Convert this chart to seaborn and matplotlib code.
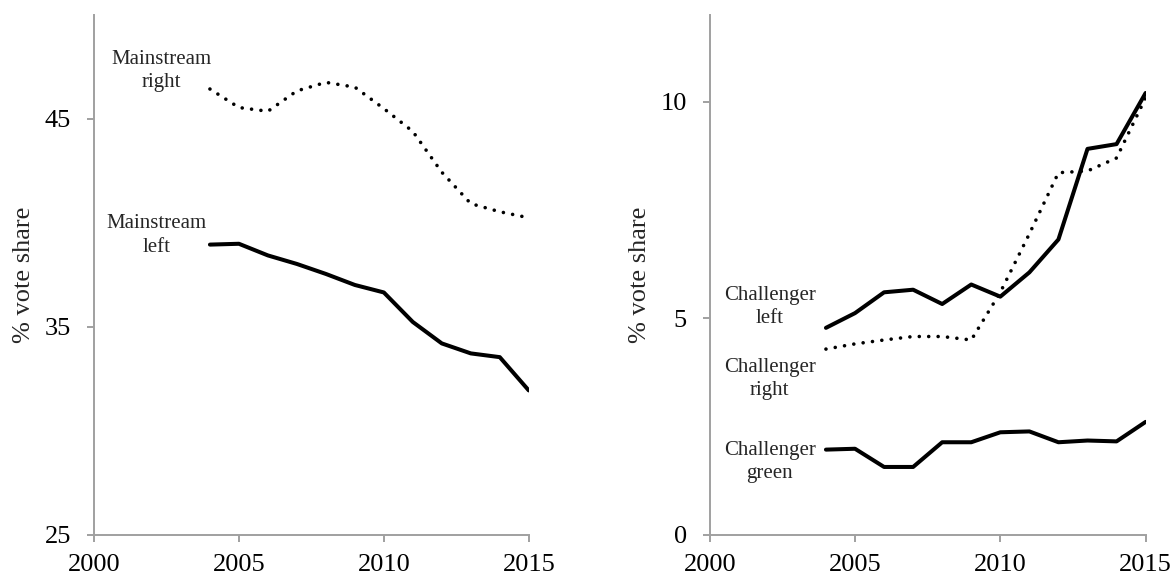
import matplotlib
matplotlib.use("Agg")
import matplotlib.pyplot as plt
import seaborn as sns
import pandas as pd

sns.set_style("ticks")
plt.rcParams['font.family'] = ['Liberation Serif', 'DejaVu Serif']

years = [2004, 2005, 2006, 2007, 2008, 2009, 2010, 2011, 2012, 2013, 2014, 2015]

# mainstream parties
mainstream_left = [38.96, 39.0, 38.44, 38.03, 37.55, 37.02, 36.66, 35.24, 34.21, 33.73, 33.55, 31.95]
mainstream_right = [46.44, 45.55, 45.37, 46.35, 46.76, 46.53, 45.5, 44.4, 42.44, 40.93, 40.54, 40.25]

# challenger parties
challenger_left = [4.78, 5.12, 5.6, 5.66, 5.33, 5.78, 5.5, 6.06, 6.82, 8.91, 9.02, 10.2]
challenger_right = [4.29, 4.41, 4.5, 4.58, 4.58, 4.5, 5.6, 6.95, 8.36, 8.4, 8.7, 10.09]
challenger_green = [1.97, 1.99, 1.57, 1.57, 2.14, 2.14, 2.37, 2.39, 2.14, 2.18, 2.16, 2.61]

df = pd.DataFrame({
    'year': years,
    'ml': mainstream_left, 'mr': mainstream_right,
    'cl': challenger_left, 'cr': challenger_right, 'cg': challenger_green,
})

solid = dict(color='black', linewidth=2.9, solid_capstyle='round')
dotted = dict(color='black', linewidth=2.6, linestyle=(0, (0.01, 2.6)),
              dash_capstyle='round')

fig = plt.figure(figsize=(11.75, 5.8), dpi=100)
ax1 = fig.add_axes([0.080, 0.0776, 0.370, 0.8966])
ax2 = fig.add_axes([0.604, 0.0776, 0.371, 0.8966])

sns.lineplot(data=df, x='year', y='mr', ax=ax1, **dotted)
sns.lineplot(data=df, x='year', y='ml', ax=ax1, **solid)
sns.lineplot(data=df, x='year', y='cr', ax=ax2, **dotted)
sns.lineplot(data=df, x='year', y='cl', ax=ax2, **solid)
sns.lineplot(data=df, x='year', y='cg', ax=ax2, **solid)

ax1.set_ylim(25, 50)
ax1.set_yticks([25, 35, 45])
ax2.set_ylim(0, 12)
ax2.set_yticks([0, 5, 10])

for ax in (ax1, ax2):
    ax.set_xlim(2000, 2015)
    ax.set_xticks([2000, 2005, 2010, 2015])
    ax.set_xlabel('')
    ax.set_ylabel('% vote share', fontsize=19, labelpad=7)
    sns.despine(ax=ax)
    for s in ('left', 'bottom'):
        ax.spines[s].set_color('#a0a0a0')
        ax.spines[s].set_linewidth(1.4)
    ax.tick_params(axis='both', colors='#a0a0a0', labelcolor='black',
                   labelsize=19, length=5, width=1.4)
    ax.tick_params(axis='x', pad=9)
    ax.tick_params(axis='y', pad=11.5)

lbl = dict(fontsize=15, ha='center', va='center', linespacing=1.3)
ax1.text(2002.33, 47.3, 'Mainstream\nright', **lbl)
ax1.text(2002.17, 39.4, 'Mainstream\nleft', **lbl)
ax2.text(2002.06, 5.26, 'Challenger\nleft', **lbl)
ax2.text(2002.06, 3.6, 'Challenger\nright', **lbl)
ax2.text(2002.06, 1.69, 'Challenger\ngreen', **lbl)

fig.savefig('out.png', dpi=100)
